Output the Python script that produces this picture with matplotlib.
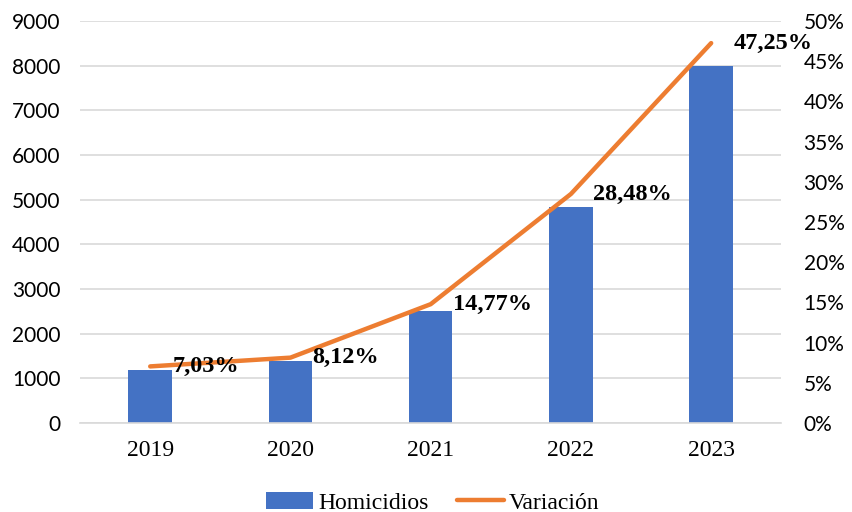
import matplotlib
matplotlib.use("Agg")
import matplotlib.pyplot as plt
from matplotlib.ticker import FuncFormatter

years = ["2019", "2020", "2021", "2022", "2023"]
homicidios = [1190, 1385, 2505, 4830, 8000]
variacion = [7.03, 8.12, 14.77, 28.48, 47.25]
variacion_labels = ["7,03%", "8,12%", "14,77%", "28,48%", "47,25%"]

BLUE = "#4472C4"
ORANGE = "#ED7D31"
GRID = "#d9d9d9"
SERIF = ["Liberation Serif", "DejaVu Serif"]
SANS = ["Lato", "DejaVu Sans"]


def main():
    fig = plt.figure(figsize=(8.52, 5.12), dpi=100)
    ax = fig.add_axes([0.094, 0.174, 0.823, 0.785])
    x = list(range(len(years)))

    ax.bar(x, homicidios, width=0.31, color=BLUE, zorder=2, label="Homicidios")
    ax.set_ylim(0, 9000)
    ax.set_yticks(range(0, 9001, 1000))
    ax.set_xlim(-0.5, len(years) - 0.5)
    ax.set_xticks(x)
    ax.set_xticklabels(years, fontfamily=SERIF, fontsize=17)
    ax.grid(axis="y", color=GRID, linewidth=1.2, zorder=0)
    ax.tick_params(axis="x", length=0, pad=12)
    ax.tick_params(axis="y", length=0, pad=14)
    for lbl in ax.get_yticklabels():
        lbl.set_fontfamily(SANS)
        lbl.set_fontsize(15)
    for s in ["top", "left", "right"]:
        ax.spines[s].set_visible(False)
    ax.spines["bottom"].set_color(GRID)
    ax.spines["bottom"].set_linewidth(1.2)

    ax2 = ax.twinx()
    ax2.plot(x, variacion, color=ORANGE, linewidth=3.2, solid_capstyle="round",
             zorder=3, label="Variación")
    ax2.set_ylim(0, 50)
    ax2.set_yticks(range(0, 51, 5))
    ax2.yaxis.set_major_formatter(FuncFormatter(lambda v, p: f"{int(v)}%"))
    ax2.tick_params(axis="y", length=0, pad=16)
    for lbl in ax2.get_yticklabels():
        lbl.set_fontfamily(SANS)
        lbl.set_fontsize(15)
    for s in ax2.spines.values():
        s.set_visible(False)

    for xi, v, t in zip(x, variacion, variacion_labels):
        ax2.annotate(t, (xi, v), xytext=(16, 0), textcoords="offset points",
                     ha="left", va="center", fontfamily=SERIF, fontsize=17.5,
                     fontweight="bold", zorder=4)

    h1, l1 = ax.get_legend_handles_labels()
    h2, l2 = ax2.get_legend_handles_labels()
    fig.legend(h1 + h2, l1 + l2, loc="center", bbox_to_anchor=(0.508, 0.018),
               ncol=2, frameon=False, prop={"family": SERIF, "size": 17},
               handlelength=2.0, handletextpad=0.2, columnspacing=1.2)

    fig.savefig("out.png", dpi=100)
    plt.close(fig)


if __name__ == "__main__":
    main()
